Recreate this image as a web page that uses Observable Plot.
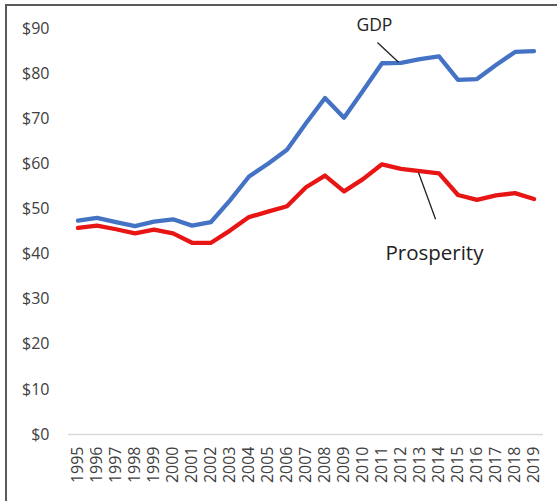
<!DOCTYPE html>
<html>
<head>
<meta charset="utf-8">
<script src="https://cdn.jsdelivr.net/npm/d3@7"></script>
<script src="https://cdn.jsdelivr.net/npm/@observablehq/plot@0.6"></script>
<style>
  html, body { margin: 0; padding: 0; background: #fff; overflow: hidden; width: 557px; height: 501px; }
  #frame { position: absolute; left: 5px; top: 4px; width: 700px; height: 700px; border: 2px solid #5a5a5a; box-sizing: border-box; }
  #chart { position: absolute; left: 0; top: 0; }
</style>
</head>
<body>
<div id="frame"></div>
<div id="chart"></div>
<script>
const years = [1995,1996,1997,1998,1999,2000,2001,2002,2003,2004,2005,2006,2007,2008,2009,2010,2011,2012,2013,2014,2015,2016,2017,2018,2019];
const gdp = [47.4,48.0,47.1,46.2,47.2,47.7,46.3,47.1,51.9,57.2,60.0,63.1,69.0,74.6,70.2,76.2,82.3,82.4,83.2,83.8,78.6,78.8,81.9,84.8,85.0];
const prosperity = [45.8,46.3,45.5,44.6,45.4,44.6,42.5,42.5,45.2,48.2,49.4,50.6,54.8,57.4,53.9,56.6,59.9,58.9,58.4,57.9,53.1,52.0,53.0,53.5,52.2];
const yTicks = [0,10,20,30,40,50,60,70,80,90];

// annotations (label position in data units, leader line from/to in data units)
const gdpLabel = {text: "GDP", year: 2010.6, value: 90.8};
const gdpLeader = {year1: 2010.76, value1: 86.9, year2: 2011.87, value2: 82.5};
const prosLabel = {text: "Prosperity", year: 2013.76, value: 40.2};
const prosLeader = {year1: 2012.92, value1: 58.1, year2: 2013.82, value2: 47.7};

const rows = years.map((year, i) => ({year, gdp: gdp[i], prosperity: prosperity[i]}));

const chart = Plot.plot({
  width: 557,
  height: 501,
  marginLeft: 68,
  marginRight: 14,
  marginTop: 28,
  marginBottom: 67,
  style: {fontFamily: "'Open Sans', sans-serif", fontSize: "16px", color: "#404040", background: "transparent", overflow: "visible"},
  x: {type: "linear", domain: [1994.5, 2019.5]},
  y: {domain: [0, 90]},
  marks: [
    Plot.ruleY([0], {stroke: "#d9d9d9", strokeWidth: 1.5}),
    Plot.axisY({ticks: yTicks, tickSize: 0, tickPadding: 19, tickFormat: d => "$" + d, label: null, fontSize: 16}),
    Plot.axisX({ticks: years, tickSize: 0, tickPadding: 12, tickRotate: -90, tickFormat: d => String(d), label: null, fontSize: 16}),
    Plot.line(rows, {x: "year", y: "gdp", stroke: "#4472C4", strokeWidth: 4.3, strokeLinejoin: "round", strokeLinecap: "round"}),
    Plot.line(rows, {x: "year", y: "prosperity", stroke: "#e81515", strokeWidth: 4.3, strokeLinejoin: "round", strokeLinecap: "round"}),
    Plot.link([gdpLeader, prosLeader], {x1: "year1", y1: "value1", x2: "year2", y2: "value2", stroke: "#222", strokeWidth: 1.3}),
    Plot.text([gdpLabel], {x: "year", y: "value", text: "text", fontSize: 17.5, fill: "#222"}),
    Plot.text([prosLabel], {x: "year", y: "value", text: "text", fontSize: 20.5, fill: "#222"})
  ]
});
document.getElementById("chart").appendChild(chart);
</script>
</body>
</html>
